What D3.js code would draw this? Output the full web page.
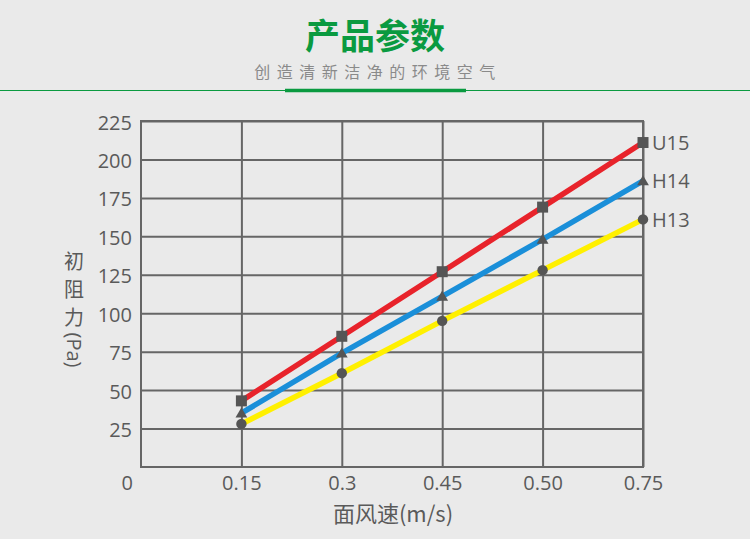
<!DOCTYPE html>
<html><head><meta charset="utf-8">
<script src="https://cdn.jsdelivr.net/npm/d3@7/dist/d3.min.js"></script>
<style>
html,body{margin:0;padding:0;background:#eaeaea;}
svg{display:block;}
</style></head>
<body>
<script>
// ---- data ----
const xLabels = ["0.15", "0.3", "0.45", "0.50", "0.75"];
const yTicks = [25, 50, 75, 100, 125, 150, 175, 200, 225];
const seriesNames = ["U15", "H14", "H13"];
const u15 = [43, 85, 127, 169, 211];
const h14 = [35, 74, 111, 148, 186];
const h13 = [28, 61, 95, 128, 161];
const seriesColors = ["#e8232b", "#1a8fd9", "#fff000"];
const seriesSymbols = [d3.symbolSquare, d3.symbolTriangle, d3.symbolCircle];
const seriesSymbolSizes = [121, 60, 85];
const titleText = "产品参数";
const subtitleText = "创造清新洁净的环境空气";
const xTitle = "面风速(m/s)";
const yTitleChars = ["初", "阻", "力"];
const yTitleUnit = "(Pa)";

const W = 750, H = 539;
const mLeft = 141, mRight = 643, mTop = 121, mBottom = 467;
const gridColor = "#666666";
const textColor = "#5a5a5a";
const numFont = "'Open Sans', 'Noto Sans', sans-serif";
const cjkFont = "'Noto Sans CJK SC', sans-serif";

const svg = d3.select("body").append("svg").attr("width", W).attr("height", H);
svg.append("rect").attr("width", W).attr("height", H).attr("fill", "#eaeaea");

// header
svg.append("text").attr("x", 375).attr("y", 33).attr("text-anchor", "middle")
  .attr("dominant-baseline", "central").attr("font-family", cjkFont).attr("font-weight", 700)
  .attr("font-size", 35).attr("fill", "#0a9a40").text(titleText);
svg.append("text").attr("x", 378).attr("y", 71).attr("text-anchor", "middle")
  .attr("dominant-baseline", "central").attr("font-family", cjkFont)
  .attr("font-size", 16).attr("letter-spacing", 6.5).attr("fill", "#8a8a8a").text(subtitleText);
svg.append("line").attr("x1", 0).attr("x2", W).attr("y1", 90.5).attr("y2", 90.5)
  .attr("stroke", "#0a9a40").attr("stroke-width", 1.2);
svg.append("line").attr("x1", 285).attr("x2", 466).attr("y1", 90.5).attr("y2", 90.5)
  .attr("stroke", "#0a9a40").attr("stroke-width", 3.5);

// scales
const x = d3.scaleLinear().domain([0, xLabels.length]).range([mLeft, mRight]);
const y = d3.scaleLinear().domain([0, 225]).range([mBottom, mTop]);

// axes with grid
const gx = svg.append("g").attr("transform", `translate(0,${mBottom})`)
  .call(d3.axisBottom(x).tickValues(d3.range(1, xLabels.length + 1))
    .tickFormat(i => xLabels[i - 1]).tickSize(-(mBottom - mTop)).tickPadding(4));
const gy = svg.append("g").attr("transform", `translate(${mLeft},0)`)
  .call(d3.axisLeft(y).tickValues(yTicks).tickSize(-(mRight - mLeft)).tickPadding(9));
[gx, gy].forEach(g => {
  g.select(".domain").remove();
  g.selectAll(".tick line").attr("stroke", gridColor).attr("stroke-width", 2);
  g.selectAll(".tick text").attr("fill", textColor).attr("font-family", numFont).attr("font-size", 20);
});
gx.selectAll(".tick text").attr("dy", "0.95em");
gy.selectAll(".tick text").attr("dy", "0.4em");
// origin label
svg.append("text").attr("x", 133).attr("y", mBottom + 4).attr("dy", "0.95em")
  .attr("text-anchor", "end").attr("fill", textColor).attr("font-family", numFont)
  .attr("font-size", 20).text("0");
// frame
svg.append("rect").attr("x", mLeft).attr("y", mTop).attr("width", mRight - mLeft).attr("height", mBottom - mTop)
  .attr("fill", "none").attr("stroke", gridColor).attr("stroke-width", 2);

// series
const allSeries = [u15, h14, h13];
const line = d3.line().x((d, i) => x(i + 1)).y(d => y(d));
for (let s = allSeries.length - 1; s >= 0; s--) {
  svg.append("path").datum(allSeries[s]).attr("d", line)
    .attr("fill", "none").attr("stroke", seriesColors[s]).attr("stroke-width", 5.5);
}
allSeries.forEach((vals, s) => {
  svg.append("g").selectAll("path").data(vals).join("path")
    .attr("d", d3.symbol().type(seriesSymbols[s]).size(seriesSymbolSizes[s]))
    .attr("transform", (d, i) => `translate(${x(i + 1)},${y(d) + (s === 1 ? 1 : 0)})`)
    .attr("fill", "#555555");
  svg.append("text").attr("x", mRight + 9).attr("y", y(vals[vals.length - 1]))
    .attr("dy", "0.36em").attr("fill", textColor).attr("font-family", numFont)
    .attr("font-size", 20).text(seriesNames[s]);
});

// axis titles
svg.append("text").attr("x", 393).attr("y", 512).attr("text-anchor", "middle")
  .attr("dominant-baseline", "central").attr("font-family", cjkFont)
  .attr("font-size", 22).attr("fill", textColor).text(xTitle);
yTitleChars.forEach((c, i) => {
  svg.append("text").attr("x", 74).attr("y", 260 + i * 28).attr("text-anchor", "middle")
    .attr("dominant-baseline", "central").attr("font-family", cjkFont)
    .attr("font-size", 20).attr("fill", textColor).text(c);
});
svg.append("text").attr("transform", "translate(74,350) rotate(90)").attr("text-anchor", "middle")
  .attr("dominant-baseline", "central").attr("font-family", numFont)
  .attr("font-size", 20).attr("fill", textColor).text(yTitleUnit);
</script>
</body></html>
